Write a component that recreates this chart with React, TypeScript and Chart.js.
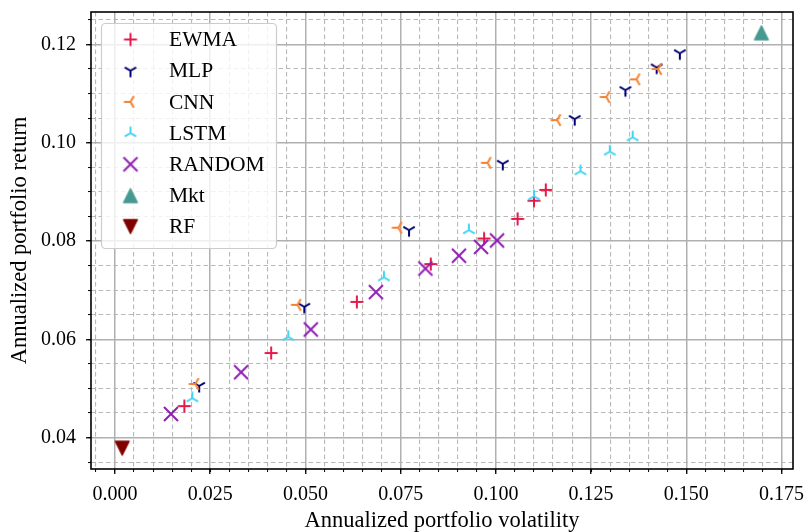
import React, { useEffect, useRef } from 'react';
import { Chart, registerables } from 'chart.js';

Chart.register(...registerables);

// ---- data (annualized volatility, annualized return) ----
const ewmaVol = [0.0182, 0.0410, 0.0635, 0.0829, 0.0969, 0.1057, 0.1100, 0.1131];
const ewmaRet = [0.0464, 0.0572, 0.0676, 0.0753, 0.0805, 0.0845, 0.0882, 0.0904];
const mlpVol = [0.0221, 0.0497, 0.0772, 0.1018, 0.1207, 0.1340, 0.1422, 0.1483];
const mlpRet = [0.0505, 0.0666, 0.0822, 0.0957, 0.1048, 0.1107, 0.1153, 0.1182];
const cnnVol = [0.0211, 0.0479, 0.0744, 0.0978, 0.1161, 0.1290, 0.1369, 0.1426];
const cnnRet = [0.0509, 0.0670, 0.0827, 0.0959, 0.1046, 0.1093, 0.1129, 0.1150];
const lstmVol = [0.0203, 0.0455, 0.0706, 0.0929, 0.1100, 0.1222, 0.1299, 0.1359];
const lstmRet = [0.0480, 0.0605, 0.0726, 0.0822, 0.0891, 0.0942, 0.0982, 0.1011];
const randomVol = [0.0147, 0.0331, 0.0514, 0.0685, 0.0815, 0.0903, 0.0961, 0.1003];
const randomRet = [0.0448, 0.0533, 0.0620, 0.0696, 0.0744, 0.0770, 0.0788, 0.0801];
const mktVol = [0.1697];
const mktRet = [0.1224];
const rfVol = [0.0019];
const rfRet = [0.0378];

const seriesLabels = ['EWMA', 'MLP', 'CNN', 'LSTM', 'RANDOM', 'Mkt', 'RF'];

const xMin = -0.0063;
const xMax = 0.178;
const yMin = 0.0336;
const yMax = 0.1266;
const xMajorStep = 0.025;
const yMajorStep = 0.02;
const minorStep = 0.005;

const xTitle = 'Annualized portfolio volatility';
const yTitle = 'Annualized portfolio return';

const FONT = "'Liberation Serif', 'Times New Roman', serif";

function pts(xs: number[], ys: number[]) {
  return xs.map((x, i) => ({ x, y: ys[i] }));
}

function makeMarker(draw: (ctx: CanvasRenderingContext2D) => void, size = 24) {
  const c = document.createElement('canvas');
  c.width = size;
  c.height = size;
  const ctx = c.getContext('2d')!;
  ctx.translate(size / 2, size / 2);
  ctx.lineCap = 'butt';
  draw(ctx);
  return c;
}

function strokeArms(color: string, arms: [number, number][], lw = 2) {
  return makeMarker((ctx) => {
    ctx.strokeStyle = color;
    ctx.lineWidth = lw;
    ctx.beginPath();
    arms.forEach(([x, y]) => {
      ctx.moveTo(0, 0);
      ctx.lineTo(x, y);
    });
    ctx.stroke();
  });
}

function triangle(color: string, up: boolean, h = 7.2) {
  return makeMarker((ctx) => {
    ctx.fillStyle = color;
    ctx.strokeStyle = color;
    ctx.lineWidth = 1;
    ctx.beginPath();
    const s = up ? 1 : -1;
    ctx.moveTo(0, -h * s);
    ctx.lineTo(-h, h * s);
    ctx.lineTo(h, h * s);
    ctx.closePath();
    ctx.fill();
    ctx.stroke();
  });
}

const isMultiple = (v: number, step: number) => Math.abs(v / step - Math.round(v / step)) < 1e-6;

const frameAndLegend = {
  id: 'frameAndLegend',
  afterDraw(chart: any) {
    const { ctx, chartArea } = chart;
    ctx.save();
    // legend box
    const x0 = chartArea.left + 10.5;
    const y0 = chartArea.top + 11.5;
    const w = 175;
    const h = 225;
    const r = 4;
    ctx.beginPath();
    ctx.moveTo(x0 + r, y0);
    ctx.lineTo(x0 + w - r, y0);
    ctx.arcTo(x0 + w, y0, x0 + w, y0 + r, r);
    ctx.lineTo(x0 + w, y0 + h - r);
    ctx.arcTo(x0 + w, y0 + h, x0 + w - r, y0 + h, r);
    ctx.lineTo(x0 + r, y0 + h);
    ctx.arcTo(x0, y0 + h, x0, y0 + h - r, r);
    ctx.lineTo(x0, y0 + r);
    ctx.arcTo(x0, y0, x0 + r, y0, r);
    ctx.closePath();
    ctx.fillStyle = 'rgba(255,255,255,0.8)';
    ctx.fill();
    ctx.strokeStyle = '#cccccc';
    ctx.lineWidth = 1.2;
    ctx.stroke();

    ctx.font = `21.5px ${FONT}`;
    ctx.fillStyle = '#000';
    ctx.textAlign = 'left';
    ctx.textBaseline = 'middle';
    chart.data.datasets.forEach((ds: any, i: number) => {
      const cy = y0 + 16 + i * 31.2;
      const img = ds.pointStyle as HTMLCanvasElement;
      ctx.drawImage(img, x0 + 29 - img.width / 2, cy - img.height / 2);
      ctx.fillText(ds.label, x0 + 67.5, cy + 1);
    });

    // axes frame (spines)
    ctx.strokeStyle = '#000';
    ctx.lineWidth = 1.6;
    ctx.strokeRect(chartArea.left, chartArea.top, chartArea.right - chartArea.left, chartArea.bottom - chartArea.top);
    ctx.restore();
  },
};

export default function App() {
  const ref = useRef<HTMLCanvasElement>(null);

  useEffect(() => {
    const canvas = ref.current!;
    const r = 6.6;
    const c30 = 0.866 * r;
    const mEWMA = strokeArms('#e6194b', [[-6.5, 0], [6.5, 0], [0, -6.5], [0, 6.5]]);
    const mMLP = strokeArms('#000075', [[0, r], [-c30, -r / 2], [c30, -r / 2]]);
    const mCNN = strokeArms('#f58231', [[-r, 0], [r / 2, -c30], [r / 2, c30]]);
    const mLSTM = strokeArms('#42d4f4', [[0, -r], [-c30, r / 2], [c30, r / 2]]);
    const mRAND = strokeArms('#911eb4', [[-7, -7], [7, 7], [-7, 7], [7, -7]]);
    const mMkt = triangle('#469990', true);
    const mRF = triangle('#800000', false);

    const series = [
      { data: pts(ewmaVol, ewmaRet), style: mEWMA },
      { data: pts(mlpVol, mlpRet), style: mMLP },
      { data: pts(cnnVol, cnnRet), style: mCNN },
      { data: pts(lstmVol, lstmRet), style: mLSTM },
      { data: pts(randomVol, randomRet), style: mRAND },
      { data: pts(mktVol, mktRet), style: mMkt },
      { data: pts(rfVol, rfRet), style: mRF },
    ];

    const tickFont = { family: FONT, size: 20 };
    const titleFont = { family: FONT, size: 22.5 };

    const chart = new Chart(canvas, {
      type: 'scatter',
      data: {
        datasets: series.map((s, i) => ({
          label: seriesLabels[i],
          data: s.data,
          pointStyle: s.style as any,
          pointRadius: 7,
          pointHoverRadius: 7,
          order: series.length - i,
          showLine: false,
        })),
      },
      options: {
        responsive: false,
        devicePixelRatio: 1,
        animation: false,
        events: [],
        layout: { padding: { left: 0, right: 13, top: 12, bottom: 0 } },
        plugins: { legend: { display: false }, tooltip: { enabled: false } },
        scales: {
          x: {
            type: 'linear',
            position: 'bottom',
            weight: 1,
            min: xMin,
            max: xMax,
            border: { display: false },
            grid: { color: '#b0b0b0', lineWidth: 1.5, tickLength: 5, tickColor: '#000', tickWidth: 1.3 },
            ticks: {
              stepSize: xMajorStep,
              includeBounds: false,
              autoSkip: false,
              maxRotation: 0,
              color: '#000',
              font: tickFont,
              padding: 9,
              callback: (v: any) => Number(v).toFixed(3),
            },
            title: { display: true, text: xTitle, color: '#000', font: titleFont, padding: { top: 0, bottom: -3 } },
            afterFit: (s: any) => {
              s.height = 63;
              s.paddingLeft = 0;
              s.paddingRight = 0;
            },
          },
          x2: {
            type: 'linear',
            axis: 'x',
            position: 'bottom',
            weight: 0,
            min: xMin,
            max: xMax,
            border: { display: false, dash: [4.5, 3] },
            grid: {
              z: -2,
              lineWidth: 1.1,
              color: (c: any) => (isMultiple(c.tick.value, xMajorStep) ? 'rgba(0,0,0,0)' : '#b8b8b8'),
              tickColor: '#000',
              tickLength: 3,
              tickWidth: 1,
            },
            ticks: { stepSize: minorStep, includeBounds: false, display: false, autoSkip: false },
            afterFit: (s: any) => {
              s.height = 0;
              s.paddingLeft = 0;
              s.paddingRight = 0;
            },
          },
          y: {
            type: 'linear',
            position: 'left',
            weight: 1,
            min: yMin,
            max: yMax,
            border: { display: false },
            grid: { color: '#b0b0b0', lineWidth: 1.5, tickLength: 5, tickColor: '#000', tickWidth: 1.3 },
            ticks: {
              stepSize: yMajorStep,
              includeBounds: false,
              autoSkip: false,
              color: '#000',
              font: tickFont,
              padding: 10,
              callback: (v: any) => Number(v).toFixed(2),
            },
            title: { display: true, text: yTitle, color: '#000', font: titleFont, padding: { top: 7, bottom: 0 } },
            afterFit: (s: any) => {
              s.width = 91;
              s.paddingTop = 0;
              s.paddingBottom = 0;
            },
          },
          y2: {
            type: 'linear',
            axis: 'y',
            position: 'left',
            weight: 0,
            min: yMin,
            max: yMax,
            border: { display: false, dash: [4.5, 3] },
            grid: {
              z: -2,
              lineWidth: 1.1,
              color: (c: any) => (isMultiple(c.tick.value, yMajorStep) ? 'rgba(0,0,0,0)' : '#b8b8b8'),
              tickColor: '#000',
              tickLength: 3,
              tickWidth: 1,
            },
            ticks: { stepSize: minorStep, includeBounds: false, display: false, autoSkip: false },
            afterFit: (s: any) => {
              s.width = 0;
              s.paddingTop = 0;
              s.paddingBottom = 0;
            },
          },
        },
      } as any,
      plugins: [frameAndLegend],
    });
    return () => chart.destroy();
  }, []);

  return (
    <div style={{ position: 'fixed', left: 0, top: 0, width: 806, height: 532, background: '#fff' }}>
      <canvas ref={ref} width={806} height={532} style={{ display: 'block', width: 806, height: 532 }} />
    </div>
  );
}
